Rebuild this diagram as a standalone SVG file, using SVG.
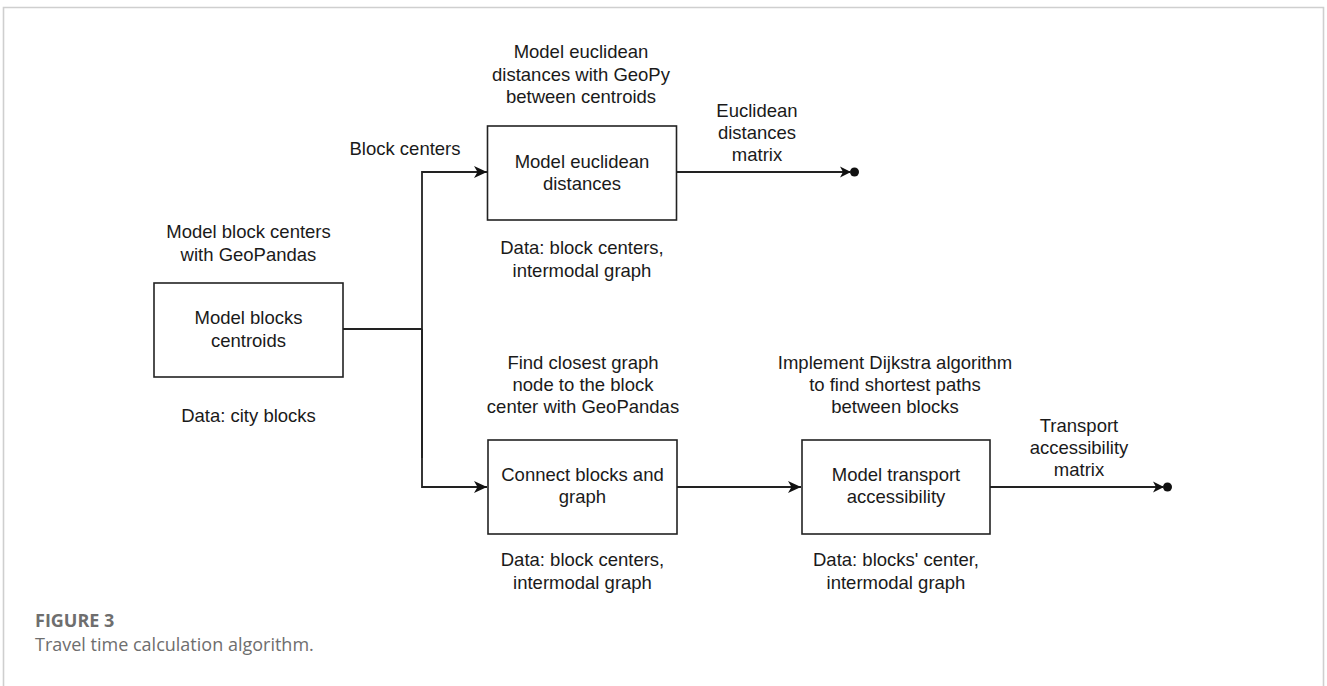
<svg xmlns="http://www.w3.org/2000/svg" width="1327" height="686" viewBox="0 0 1327 686">
<style>
.t{font-family:"Liberation Sans",Arial,sans-serif;font-size:18.5px;fill:#1a1a1a;text-anchor:middle}
.box{fill:#fff;stroke:#222;stroke-width:1.6}
.ln{fill:none;stroke:#222;stroke-width:1.8}
.cap{font-family:"Open Sans",sans-serif;font-size:18px;fill:#6e6e6e}
</style>
<defs>
<marker id="arr" markerWidth="16" markerHeight="14" refX="13" refY="7" orient="auto" markerUnits="userSpaceOnUse">
<path d="M0,1 L13,7 L0,13 L3.5,7 Z" fill="#111"/>
</marker>
<marker id="arrdot" markerWidth="24" markerHeight="14" refX="10" refY="7" orient="auto" markerUnits="userSpaceOnUse">
<path d="M0,1.5 L11,7 L0,12.5 L3,7 Z" fill="#111"/>
<circle cx="14.5" cy="7" r="4.5" fill="#111"/>
</marker>
</defs>
<rect x="0" y="0" width="1327" height="686" fill="#fff"/>
<path d="M3.5,690 V7.5 H1323.5 V690" fill="none" stroke="#cfcfcf" stroke-width="1.6"/>

<g id="connectors">
<path class="ln" d="M343,329 H422"/>
<path class="ln" d="M422,458 V172 H487" marker-end="url(#arr)"/>
<path class="ln" d="M422,329 V487 H487" marker-end="url(#arr)"/>
<path class="ln" d="M677,172 H850" marker-end="url(#arrdot)"/>
<path class="ln" d="M677,487 H801" marker-end="url(#arr)"/>
<path class="ln" d="M990,487 H1163" marker-end="url(#arrdot)"/>
<text class="t" x="405" y="155">Block centers</text>
<text class="t" x="757" y="117">Euclidean</text>
<text class="t" x="757" y="139">distances</text>
<text class="t" x="757" y="161">matrix</text>
<text class="t" x="1079" y="432">Transport</text>
<text class="t" x="1079" y="454">accessibility</text>
<text class="t" x="1079" y="476">matrix</text>
</g>

<g id="node-centroids">
<text class="t" x="248.5" y="238">Model block centers</text>
<text class="t" x="248.5" y="261">with GeoPandas</text>
<rect class="box" x="154" y="283" width="189" height="94"/>
<text class="t" x="248.5" y="324">Model blocks</text>
<text class="t" x="248.5" y="347">centroids</text>
<text class="t" x="248.5" y="422">Data: city blocks</text>
</g>

<g id="node-euclidean">
<text class="t" x="581" y="58">Model euclidean</text>
<text class="t" x="581" y="81">distances with GeoPy</text>
<text class="t" x="581" y="103">between centroids</text>
<rect class="box" x="487.5" y="126" width="189" height="94"/>
<text class="t" x="582" y="168">Model euclidean</text>
<text class="t" x="582" y="190">distances</text>
<text class="t" x="582" y="254">Data: block centers,</text>
<text class="t" x="582" y="277">intermodal graph</text>
</g>

<g id="node-connect">
<text class="t" x="583" y="369">Find closest graph</text>
<text class="t" x="583" y="391">node to the block</text>
<text class="t" x="583" y="413">center with GeoPandas</text>
<rect class="box" x="488" y="440" width="189" height="94"/>
<text class="t" x="582.5" y="481">Connect blocks and</text>
<text class="t" x="582.5" y="503">graph</text>
<text class="t" x="582.5" y="566">Data: block centers,</text>
<text class="t" x="582.5" y="589">intermodal graph</text>
</g>

<g id="node-transport">
<text class="t" x="895" y="369">Implement Dijkstra algorithm</text>
<text class="t" x="895" y="391">to find shortest paths</text>
<text class="t" x="895" y="413">between blocks</text>
<rect class="box" x="802" y="440" width="188" height="94"/>
<text class="t" x="896" y="481">Model transport</text>
<text class="t" x="896" y="503">accessibility</text>
<text class="t" x="896" y="566">Data: blocks' center,</text>
<text class="t" x="896" y="589">intermodal graph</text>
</g>

<g id="caption">
<text class="cap" x="35" y="627" font-weight="bold">FIGURE 3</text>
<text class="cap" x="35" y="651">Travel time calculation algorithm.</text>
</g>
</svg>
